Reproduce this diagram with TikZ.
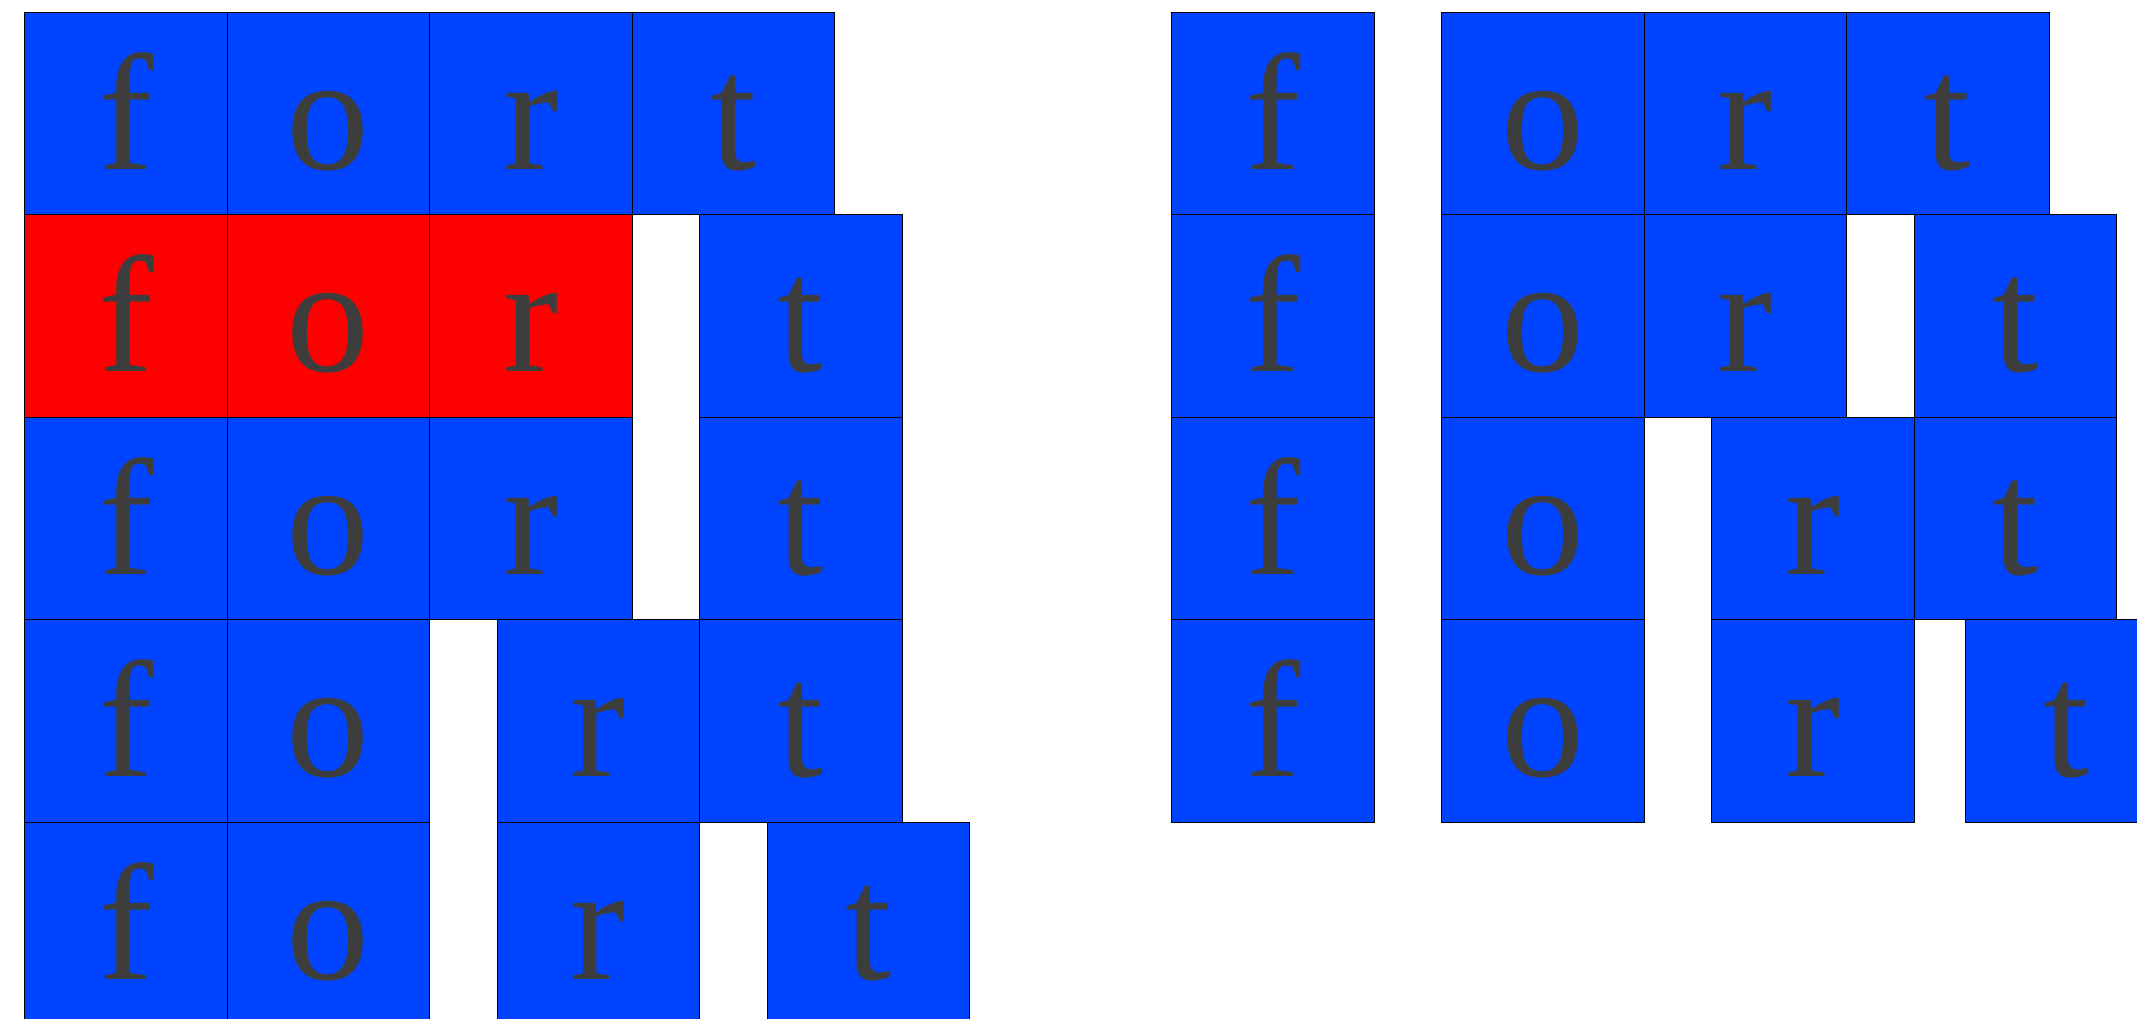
\documentclass[tikz,border=0pt]{standalone}
\usepackage{fontspec}
\setmainfont{Liberation Serif}
\definecolor{cellblue}{RGB}{0,68,255}
\definecolor{cellred}{RGB}{255,0,0}
\definecolor{lettergray}{RGB}{61,61,61}
\tikzset{
  cell/.style={draw=black, line width=1pt, minimum width=202.5pt, minimum height=202.5pt,
    inner sep=0pt, text height=110.9pt, text depth=0pt, text=lettergray,
    font=\fontsize{166}{170}\selectfont},
  bluecell/.style={cell, fill=cellblue},
  redcell/.style={cell, fill=cellred}
}
\begin{document}
\begin{tikzpicture}[x=1pt,y=-1pt]
\useasboundingbox (0,0) rectangle (2137,1018);
\clip (0,0) rectangle (2137,1018);
% left block
\node[bluecell] (L1f) at (125.95,113.55) {f};
\node[bluecell] (L1o) at (328.45,113.55) {o};
\node[bluecell] (L1r) at (530.95,113.55) {r};
\node[bluecell] (L1t) at (733.45,113.55) {t};
\node[redcell]  (L2f) at (125.95,316.05) {f};
\node[redcell]  (L2o) at (328.45,316.05) {o};
\node[redcell]  (L2r) at (530.95,316.05) {r};
\node[bluecell] (L2t) at (800.95,316.05) {t};
\node[bluecell] (L3f) at (125.95,518.55) {f};
\node[bluecell] (L3o) at (328.45,518.55) {o};
\node[bluecell] (L3r) at (530.95,518.55) {r};
\node[bluecell] (L3t) at (800.95,518.55) {t};
\node[bluecell] (L4f) at (125.95,721.05) {f};
\node[bluecell] (L4o) at (328.45,721.05) {o};
\node[bluecell] (L4r) at (598.45,721.05) {r};
\node[bluecell] (L4t) at (800.95,721.05) {t};
\node[bluecell] (L5f) at (125.95,923.55) {f};
\node[bluecell] (L5o) at (328.45,923.55) {o};
\node[bluecell] (L5r) at (598.45,923.55) {r};
\node[bluecell] (L5t) at (868.45,923.55) {t};
% right block
\node[bluecell] (R1f) at (1272.95,113.55) {f};
\node[bluecell] (R1o) at (1542.95,113.55) {o};
\node[bluecell] (R1r) at (1745.45,113.55) {r};
\node[bluecell] (R1t) at (1947.95,113.55) {t};
\node[bluecell] (R2f) at (1272.95,316.05) {f};
\node[bluecell] (R2o) at (1542.95,316.05) {o};
\node[bluecell] (R2r) at (1745.45,316.05) {r};
\node[bluecell] (R2t) at (2015.45,316.05) {t};
\node[bluecell] (R3f) at (1272.95,518.55) {f};
\node[bluecell] (R3o) at (1542.95,518.55) {o};
\node[bluecell] (R3r) at (1812.95,518.55) {r};
\node[bluecell] (R3t) at (2015.45,518.55) {t};
\node[bluecell] (R4f) at (1272.95,721.05) {f};
\node[bluecell] (R4o) at (1542.95,721.05) {o};
\node[bluecell] (R4r) at (1812.95,721.05) {r};
\node[bluecell] (R4t) at (2066.55,721.05) {t};
\end{tikzpicture}
\end{document}
